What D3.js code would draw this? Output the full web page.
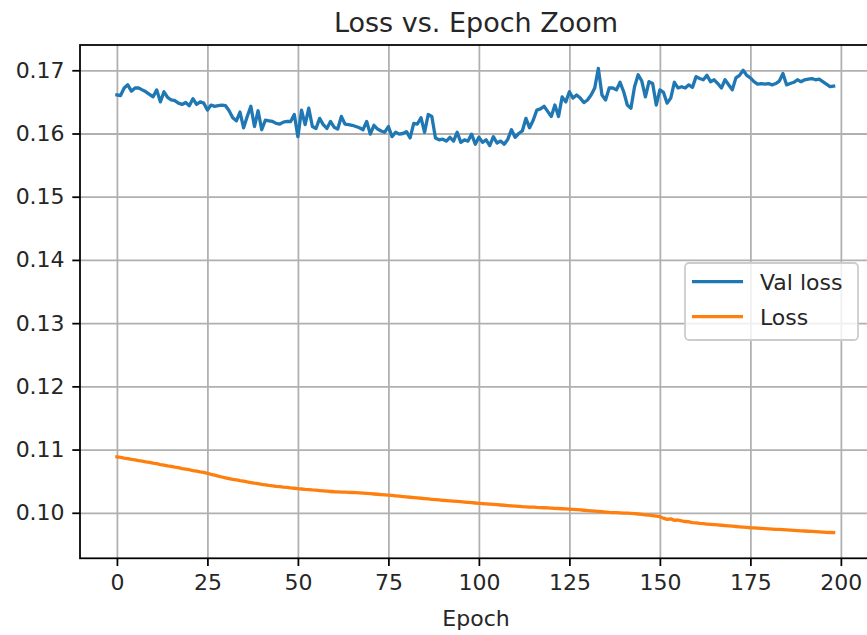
<!DOCTYPE html>
<html>
<head>
<meta charset="utf-8">
<script src="https://cdn.jsdelivr.net/npm/d3@7"></script>
<style>
  html, body { margin: 0; padding: 0; background: #ffffff; }
  svg { display: block; font-family: "DejaVu Sans", sans-serif; }
</style>
</head>
<body>
<svg id="chart" width="867" height="635"></svg>
<script>
// Validation loss per epoch (0..198)
const valLoss = [
  0.1661, 0.1660, 0.1672, 0.1677, 0.1667, 0.1672, 0.1672, 0.1669, 0.1666, 0.1662,
  0.1658, 0.1669, 0.1650, 0.1666, 0.1657, 0.1653, 0.1652, 0.1648, 0.1646, 0.1649,
  0.1644, 0.1655, 0.1646, 0.1650, 0.1648, 0.1637, 0.1645, 0.1643, 0.1644, 0.1645,
  0.1644, 0.1636, 0.1625, 0.1620, 0.1634, 0.1609, 0.1627, 0.1643, 0.1611, 0.1636,
  0.1606, 0.1621, 0.1620, 0.1619, 0.1616, 0.1615, 0.1618, 0.1619, 0.1619, 0.1630,
  0.1595, 0.1637, 0.1614, 0.1640, 0.1611, 0.1608, 0.1624, 0.1614, 0.1608, 0.1619,
  0.1610, 0.1607, 0.1627, 0.1615, 0.1614, 0.1613, 0.1611, 0.1609, 0.1606, 0.1619,
  0.1599, 0.1613, 0.1607, 0.1604, 0.1602, 0.1611, 0.1595, 0.1602, 0.1599, 0.1600,
  0.1603, 0.1593, 0.1616, 0.1615, 0.1625, 0.1602, 0.1630, 0.1627, 0.1593, 0.1590,
  0.1591, 0.1588, 0.1594, 0.1588, 0.1602, 0.1586, 0.1590, 0.1588, 0.1599, 0.1583,
  0.1594, 0.1586, 0.1590, 0.1581, 0.1595, 0.1585, 0.1588, 0.1583, 0.1591, 0.1606,
  0.1594, 0.1600, 0.1604, 0.1624, 0.1609, 0.1621, 0.1637, 0.1639, 0.1643, 0.1635,
  0.1627, 0.1645, 0.1627, 0.1658, 0.1650, 0.1666, 0.1656, 0.1661, 0.1656, 0.1649,
  0.1653, 0.1661, 0.1672, 0.1703, 0.1661, 0.1653, 0.1672, 0.1672, 0.1669, 0.1681,
  0.1666, 0.1645, 0.1640, 0.1674, 0.1693, 0.1683, 0.1658, 0.1682, 0.1679, 0.1645,
  0.1669, 0.1665, 0.1648, 0.1656, 0.1681, 0.1672, 0.1674, 0.1672, 0.1677, 0.1673,
  0.1690, 0.1687, 0.1685, 0.1692, 0.1682, 0.1685, 0.1679, 0.1672, 0.1685, 0.1677,
  0.1669, 0.1688, 0.1692, 0.1700, 0.1692, 0.1688, 0.1682, 0.1678, 0.1679, 0.1678,
  0.1679, 0.1677, 0.1679, 0.1683, 0.1695, 0.1677, 0.1679, 0.1681, 0.1685, 0.1682,
  0.1685, 0.1686, 0.1687, 0.1685, 0.1686, 0.1682, 0.1678, 0.1674, 0.1675
];

// Training loss per epoch (0..198)
const trainLoss = [
  0.10886, 0.10878, 0.10866, 0.10858, 0.10846, 0.10838, 0.10825, 0.10817, 0.10804, 0.10796,
  0.10784, 0.10776, 0.10763, 0.10755, 0.10742, 0.10734, 0.10721, 0.10713, 0.10700, 0.10690,
  0.10681, 0.10668, 0.10660, 0.10647, 0.10638, 0.10625, 0.10609, 0.10596, 0.10580, 0.10566,
  0.10553, 0.10541, 0.10528, 0.10520, 0.10508, 0.10499, 0.10488, 0.10479, 0.10468, 0.10460,
  0.10449, 0.10440, 0.10432, 0.10427, 0.10419, 0.10414, 0.10406, 0.10401, 0.10393, 0.10388,
  0.10381, 0.10376, 0.10370, 0.10367, 0.10361, 0.10357, 0.10352, 0.10348, 0.10342, 0.10337,
  0.10333, 0.10331, 0.10328, 0.10326, 0.10323, 0.10321, 0.10319, 0.10316, 0.10311, 0.10306,
  0.10302, 0.10297, 0.10293, 0.10288, 0.10284, 0.10279, 0.10274, 0.10268, 0.10263, 0.10257,
  0.10252, 0.10246, 0.10241, 0.10235, 0.10230, 0.10224, 0.10219, 0.10213, 0.10208, 0.10204,
  0.10198, 0.10194, 0.10189, 0.10184, 0.10179, 0.10175, 0.10170, 0.10165, 0.10160, 0.10155,
  0.10150, 0.10146, 0.10141, 0.10137, 0.10132, 0.10128, 0.10123, 0.10119, 0.10114, 0.10110,
  0.10105, 0.10101, 0.10096, 0.10094, 0.10091, 0.10089, 0.10085, 0.10083, 0.10080, 0.10078,
  0.10074, 0.10071, 0.10068, 0.10064, 0.10061, 0.10058, 0.10054, 0.10049, 0.10045, 0.10040,
  0.10035, 0.10031, 0.10026, 0.10022, 0.10017, 0.10012, 0.10007, 0.10004, 0.10001, 0.09999,
  0.09996, 0.09994, 0.09991, 0.09987, 0.09981, 0.09975, 0.09968, 0.09962, 0.09955, 0.09947,
  0.09938, 0.09915, 0.09895, 0.09905, 0.09880, 0.09886, 0.09872, 0.09862, 0.09858, 0.09846,
  0.09840, 0.09832, 0.09827, 0.09822, 0.09818, 0.09813, 0.09808, 0.09803, 0.09798, 0.09793,
  0.09788, 0.09783, 0.09778, 0.09773, 0.09768, 0.09763, 0.09760, 0.09756, 0.09753, 0.09749,
  0.09746, 0.09743, 0.09739, 0.09736, 0.09732, 0.09729, 0.09725, 0.09722, 0.09718, 0.09715,
  0.09712, 0.09708, 0.09705, 0.09701, 0.09698, 0.09694, 0.09690, 0.09688, 0.09686
];

const xTicks = [0, 25, 50, 75, 100, 125, 150, 175, 200];
const yTicks = [0.10, 0.11, 0.12, 0.13, 0.14, 0.15, 0.16, 0.17];
const seriesNames = ["Val loss", "Loss"];
const seriesColors = ["#1f77b4", "#ff7f0e"];

const svg = d3.select("#chart");
const margin = { left: 80, right: -5, top: 45, bottom: 76.7 };
const W = 867, H = 635;
const plotW = W - margin.left - margin.right;
const plotH = H - margin.top - margin.bottom;

const x = d3.scaleLinear().domain([-10.2, 208.6]).range([0, plotW]);
const y = d3.scaleLinear().domain([0.0928, 0.1740]).range([plotH, 0]);

svg.append("rect").attr("width", W).attr("height", H).attr("fill", "#ffffff");

const g = svg.append("g").attr("transform", `translate(${margin.left},${margin.top})`);

// grid
const gridColor = "#b0b0b0", gridW = 1.76;
g.append("g").attr("class", "grid-x")
  .attr("transform", `translate(0,${plotH})`)
  .call(d3.axisBottom(x).tickValues(xTicks).tickSize(-plotH).tickFormat(""))
  .call(s => s.select(".domain").remove())
  .call(s => s.selectAll("line").attr("stroke", gridColor).attr("stroke-width", gridW));
g.append("g").attr("class", "grid-y")
  .call(d3.axisLeft(y).tickValues(yTicks).tickSize(-plotW).tickFormat(""))
  .call(s => s.select(".domain").remove())
  .call(s => s.selectAll("line").attr("stroke", gridColor).attr("stroke-width", gridW));

// series lines
const line = d3.line().x((d, i) => x(i)).y(d => y(d));
[valLoss, trainLoss].forEach((data, k) => {
  g.append("path")
    .datum(data)
    .attr("fill", "none")
    .attr("stroke", seriesColors[k])
    .attr("stroke-width", 3.3)
    .attr("stroke-linejoin", "round")
    .attr("stroke-linecap", "square")
    .attr("d", line);
});

// spines
g.append("rect")
  .attr("x", 0).attr("y", 0).attr("width", plotW).attr("height", plotH)
  .attr("fill", "none").attr("stroke", "#000").attr("stroke-width", 1.76);

// axes
const tickFont = 22;
const xAxis = g.append("g")
  .attr("transform", `translate(0,${plotH})`)
  .call(d3.axisBottom(x).tickValues(xTicks).tickSize(7.7).tickPadding(7.7).tickFormat(d3.format("d")));
xAxis.select(".domain").remove();
xAxis.selectAll("line").attr("stroke", "#000").attr("stroke-width", 1.76);
xAxis.selectAll("text").attr("font-size", tickFont).attr("fill", "#262626")
  .attr("font-family", "DejaVu Sans").attr("dy", "0.72em");

const yAxis = g.append("g")
  .call(d3.axisLeft(y).tickValues(yTicks).tickSize(7.7).tickPadding(7.7).tickFormat(d3.format(".2f")));
yAxis.select(".domain").remove();
yAxis.selectAll("line").attr("stroke", "#000").attr("stroke-width", 1.76);
yAxis.selectAll("text").attr("font-size", tickFont).attr("fill", "#262626")
  .attr("font-family", "DejaVu Sans");

// title and axis label
svg.append("text")
  .attr("x", margin.left + plotW / 2).attr("y", 32)
  .attr("text-anchor", "middle").attr("font-size", 27).attr("fill", "#262626")
  .text("Loss vs. Epoch Zoom");
svg.append("text")
  .attr("x", margin.left + plotW / 2).attr("y", 626)
  .attr("text-anchor", "middle").attr("font-size", 22).attr("fill", "#262626")
  .text("Epoch");

// legend
const leg = svg.append("g").attr("transform", "translate(685,263)");
leg.append("rect")
  .attr("width", 173).attr("height", 77).attr("rx", 4)
  .attr("fill", "#ffffff").attr("fill-opacity", 0.8)
  .attr("stroke", "#cccccc").attr("stroke-width", 1.76);
seriesNames.forEach((name, k) => {
  const cy = 18.7 + k * 35;
  leg.append("line")
    .attr("x1", 7).attr("x2", 58).attr("y1", cy).attr("y2", cy)
    .attr("stroke", seriesColors[k]).attr("stroke-width", 3.3);
  leg.append("text")
    .attr("x", 75).attr("y", cy).attr("dy", "0.36em")
    .attr("font-size", 22).attr("fill", "#262626")
    .text(name);
});
</script>
</body>
</html>
